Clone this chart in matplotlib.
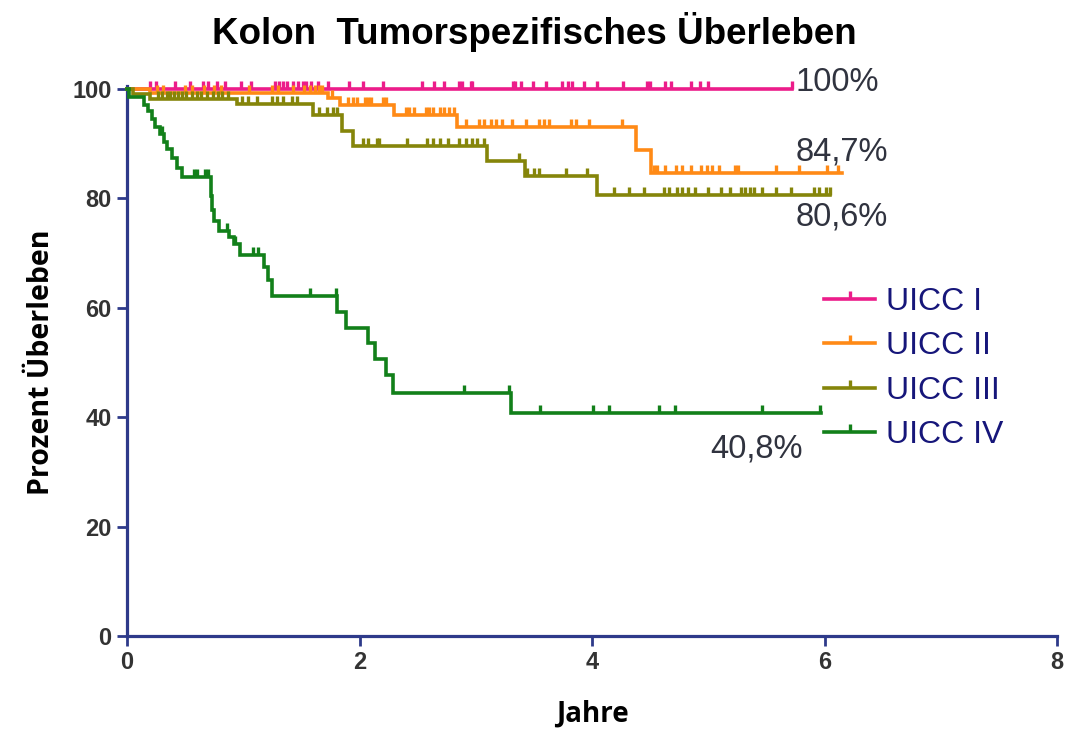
import numpy as np
import matplotlib
matplotlib.use("Agg")
import matplotlib.pyplot as plt
from matplotlib.path import Path
from matplotlib.lines import Line2D

# ---------------- data ----------------
labels = ["UICC I", "UICC II", "UICC III", "UICC IV"]
colors = ["#EC1C8A", "#FF8A16", "#85850A", "#12801A"]

t_I = [0.0, 5.72]
s_I = [100.0, 100.0]
c_I = [0.20, 0.25, 0.41, 0.54, 0.65, 0.70, 0.77, 0.84, 0.98, 1.07, 1.27, 1.31, 1.34,
       1.38, 1.43, 1.47, 1.51, 1.54, 1.58, 1.64, 1.73, 1.91, 2.03, 2.20, 2.54, 2.64,
       2.73, 2.86, 2.96, 2.88, 2.97, 3.32, 3.34, 3.39, 3.49, 3.60, 3.74, 3.79, 3.83,
       3.93, 4.04, 4.27, 4.47, 4.50, 4.63, 4.68, 4.85, 4.93, 5.00, 5.72]

t_II = [0.0, 0.20, 1.73, 1.83, 2.30, 2.84, 4.38, 4.51, 6.15]
s_II = [100.0, 99.2, 98.3, 97.1, 95.2, 93.1, 88.9, 84.7, 84.7]
c_II = [0.26, 0.31, 0.50, 0.56, 0.66, 0.75, 0.81, 1.05, 1.25, 1.30, 1.43, 1.52, 1.57,
        1.62, 1.65, 1.68, 1.76, 1.90, 1.94, 1.98, 2.05, 2.07, 2.10, 2.20, 2.23,
        2.40, 2.43, 2.47, 2.57, 2.60, 2.63, 2.69, 2.73, 2.77, 2.81,
        2.92, 3.03, 3.07, 3.13, 3.17, 3.23, 3.31, 3.43, 3.54, 3.59, 3.63, 3.82, 3.86,
        3.97, 4.26, 4.53, 4.56, 4.63, 4.72, 4.77, 4.85, 4.94, 4.99, 5.03, 5.09, 5.23,
        5.26, 5.58, 5.78, 6.02, 6.12]

t_III = [0.0, 0.05, 0.20, 0.95, 1.60, 1.85, 1.94, 3.10, 3.42, 4.04, 6.05]
s_III = [100.0, 99.0, 98.1, 97.2, 95.2, 92.3, 89.5, 86.8, 84.1, 80.6, 80.6]
c_III = [0.27, 0.30, 0.34, 0.37, 0.40, 0.44, 0.47, 0.51, 0.56, 0.60, 0.64, 0.69, 0.74,
         0.78, 0.82, 0.87, 0.99, 1.04, 1.12, 1.25, 1.29, 1.34, 1.42, 1.46,
         1.65, 1.72, 1.77, 1.81, 2.03, 2.07, 2.15, 2.17, 2.41, 2.58, 2.63, 2.69, 2.76,
         2.86, 2.92, 2.97, 3.01, 3.07, 3.37, 3.44, 3.50, 3.54, 3.78, 3.96,
         4.19, 4.32, 4.45, 4.62, 4.66, 4.73, 4.77, 4.83, 4.89, 5.00, 5.11, 5.19, 5.28,
         5.32, 5.36, 5.39, 5.46, 5.58, 5.71, 5.91, 5.95, 6.01, 6.05]

t_IV = [0.0, 0.02, 0.143, 0.18, 0.215, 0.243, 0.286, 0.315, 0.343, 0.386, 0.429,
        0.472, 0.72, 0.735, 0.75, 0.79, 0.88, 0.92, 0.97, 1.18, 1.21, 1.25, 1.81,
        1.88, 2.07, 2.13, 2.23, 2.29, 3.30, 5.97]
s_IV = [100.0, 98.5, 97.1, 96.0, 94.5, 93.0, 91.8, 90.3, 89.0, 87.4, 85.6,
        83.9, 80.5, 77.8, 75.8, 74.0, 72.9, 71.7, 69.6, 67.5, 65.0, 62.2, 59.3,
        56.3, 53.5, 50.6, 47.7, 44.5, 40.8, 40.8]
c_IV = [0.30, 0.58, 0.60, 0.67, 0.70, 0.86, 0.93, 1.08, 1.13, 1.57, 1.80, 2.90, 3.29,
        3.55, 4.01, 4.15, 4.58, 4.71, 5.46, 5.96]

end_labels = ["100%", "84,7%", "80,6%", "40,8%"]
end_label_x = [5.75, 5.75, 5.75, 5.02]
end_label_y = [101.2, 88.5, 76.6, 34.2]

x_ticks = [0, 2, 4, 6, 8]
y_ticks = [0, 20, 40, 60, 80, 100]

series = [(t_I, s_I, c_I), (t_II, s_II, c_II), (t_III, s_III, c_III), (t_IV, s_IV, c_IV)]

# ---------------- figure ----------------
W, H = 1066, 731
fig = plt.figure(figsize=(W / 100, H / 100), dpi=100)
ax = fig.add_axes([127 / W, (H - 636) / H, 930 / W, 547 / H])

tick_path = Path([(0, 0), (0, 1)], [Path.MOVETO, Path.LINETO])
navy = "#2E3A8A"

for (t, s, c), col, lab in zip(series, colors, labels):
    ax.step(t, s, where="post", color=col, lw=2.6, clip_on=False, zorder=3,
            solid_joinstyle="miter")
    t_arr = np.asarray(t)
    s_arr = np.asarray(s)
    idx = np.searchsorted(t_arr, np.asarray(c), side="right") - 1
    idx = np.clip(idx, 0, len(s_arr) - 1)
    ax.plot(c, s_arr[idx], linestyle="none", marker=tick_path, ms=12, mew=2.4,
            color=col, clip_on=False, zorder=3)

ax.set_xlim(0, 8)
ax.set_ylim(0, 100)
ax.set_xticks(x_ticks)
ax.set_yticks(y_ticks)

for side in ["top", "right"]:
    ax.spines[side].set_visible(False)
for side in ["left", "bottom"]:
    ax.spines[side].set_color(navy)
    ax.spines[side].set_linewidth(2.3)
ax.spines["left"].set_bounds(0, 100.5)

tick_font = dict(family=["Liberation Sans", "DejaVu Sans"], weight="bold", size=17)
ax.tick_params(axis="both", direction="out", length=7, width=2.0, color=navy,
               labelcolor="#333333", pad=4)
ax.set_xticklabels([str(v) for v in x_ticks], fontdict=tick_font)
ax.set_yticklabels([str(v) for v in y_ticks], fontdict=tick_font)

ax.set_xlabel("Jahre", fontsize=20, fontweight="bold",
              family=["Open Sans", "DejaVu Sans"], labelpad=18, color="black")
ax.set_ylabel("Prozent Überleben", fontsize=20.5, fontweight="bold",
              family=["Open Sans", "DejaVu Sans"], labelpad=12, color="black")

fig.text(534 / W, 1 - 32 / H, "Kolon  Tumorspezifisches Überleben",
         ha="center", va="center", fontsize=26.5, fontweight="bold",
         family=["Liberation Sans", "DejaVu Sans"])

for txt, x, y in zip(end_labels, end_label_x, end_label_y):
    ax.text(x, y, txt, ha="left", va="center", fontsize=23.5, color="#30333F",
            family=["Liberation Sans", "DejaVu Sans"])

handles = [Line2D([0], [0], color=col, lw=2.6, marker=tick_path, ms=12, mew=2.4)
           for col in colors]
leg = ax.legend(handles, labels, loc="upper left",
                bbox_to_anchor=(824 / W, 1 - 287 / H), bbox_transform=fig.transFigure,
                frameon=False, numpoints=1, handlelength=1.6, handletextpad=0.33,
                labelspacing=0.45, borderpad=0, borderaxespad=0,
                prop=dict(family=["Liberation Sans", "DejaVu Sans"], size=23),
                labelcolor="#16167A")

fig.savefig("out.png", dpi=100)
